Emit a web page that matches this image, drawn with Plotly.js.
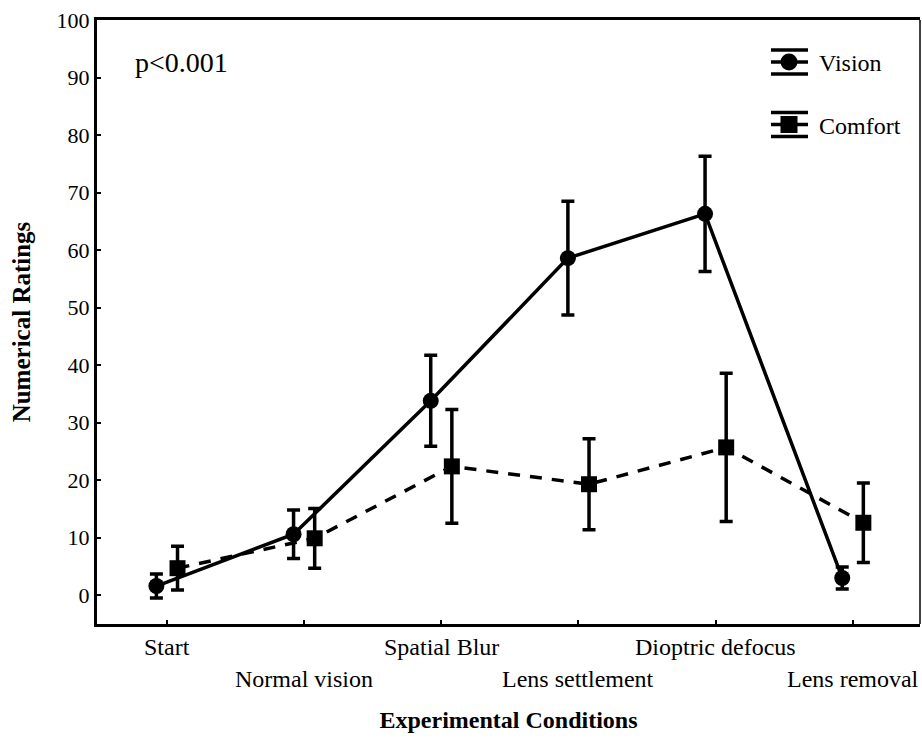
<!DOCTYPE html>
<html>
<head>
<meta charset="utf-8">
<script src="https://cdn.plot.ly/plotly-3.0.1.min.js"></script>
<style>
  html, body { margin: 0; padding: 0; background: #fff; }
  #chart { width: 922px; height: 745px; }
</style>
</head>
<body>
<div id="chart"></div>
<script>
// Experimental conditions along the x axis
const categories = ['Start', 'Normal vision', 'Spatial Blur', 'Lens settlement', 'Dioptric defocus', 'Lens removal'];

// Mean ratings and error half-widths per condition
const visionMean  = [1.6, 10.6, 33.8, 58.6, 66.3, 3.0];
const visionErr   = [2.1, 4.2, 7.9, 9.9, 10.0, 1.9];
const comfortMean = [4.7, 9.9, 22.4, 19.3, 25.7, 12.6];
const comfortErr  = [3.8, 5.2, 9.9, 7.9, 12.9, 6.9];

const yTicks = [0, 10, 20, 30, 40, 50, 60, 70, 80, 90, 100];
const seriesNames = ['Vision', 'Comfort'];
const annotationText = 'p<0.001';

const FONT = '"Liberation Serif", "Times New Roman", Times, serif';
const idx = categories.map((_, i) => i);
const dodge = 0.077;   // horizontal offset so the two series don't overlap

const W = 922, H = 745;
const M = { l: 97, r: 2, t: 20, b: 121 };
const plotW = W - M.l - M.r, plotH = H - M.t - M.b;
// helpers to place decorations in pixel terms
const px = x => (x - M.l) / plotW;
const py = y => (H - M.b - y) / plotH;

const errStyle = { type: 'data', visible: true, color: '#000', thickness: 3.5, width: 6.5 };

const traces = [
  {
    name: seriesNames[0],
    x: idx.map(i => i - dodge),
    y: visionMean,
    mode: 'lines+markers',
    line: { color: '#000', width: 3.5 },
    marker: { symbol: 'circle', size: 16, color: '#000' },
    error_y: Object.assign({ array: visionErr }, errStyle),
    showlegend: false
  },
  {
    name: seriesNames[1],
    x: idx.map(i => i + dodge),
    y: comfortMean,
    mode: 'lines+markers',
    line: { color: '#000', width: 3.5, dash: '12px,10px' },
    marker: { symbol: 'square', size: 16, color: '#000' },
    error_y: Object.assign({ array: comfortErr }, errStyle),
    showlegend: false
  }
];

// staggered category labels below the axis
const annotations = categories.map((c, i) => ({
  text: c, x: i, xref: 'x', y: 0, yref: 'paper',
  xanchor: 'center', yanchor: 'middle',
  yshift: i % 2 === 0 ? -23 : -55,
  showarrow: false, font: { family: FONT, size: 24, color: '#000' }
}));

annotations.push({
  text: annotationText, x: px(133), y: py(63), xref: 'paper', yref: 'paper',
  xanchor: 'left', yanchor: 'middle', showarrow: false,
  font: { family: FONT, size: 28, color: '#000' }
});

// hand-built legend: error-bar style key with marker
const shapes = [
  { type: 'line', xref: 'paper', yref: 'paper', x0: 1, x1: 1, y0: 0, y1: 1, line: { color: '#000', width: 1.5 } }
];
const legendRows = [
  { name: seriesNames[0], cy: 62, symbol: 'circle' },
  { name: seriesNames[1], cy: 124.5, symbol: 'rect' }
];
legendRows.forEach(r => {
  [-12, 0, 12].forEach(d => {
    shapes.push({ type: 'line', xref: 'paper', yref: 'paper',
      x0: px(771), x1: px(808), y0: py(r.cy + d), y1: py(r.cy + d),
      line: { color: '#000', width: 3.5 } });
  });
  const half = 8.5;
  shapes.push({ type: r.symbol, xref: 'paper', yref: 'paper',
    x0: px(789 - half), x1: px(789 + half), y0: py(r.cy - half), y1: py(r.cy + half),
    fillcolor: '#000', line: { color: '#000', width: 0 } });
  annotations.push({ text: r.name, x: px(817), y: py(r.cy + 1), xref: 'paper', yref: 'paper',
    xanchor: 'left', yanchor: 'middle', showarrow: false,
    font: { family: FONT, size: 24, color: '#000' } });
});

const layout = {
  width: W, height: H,
  margin: M,
  paper_bgcolor: '#fff', plot_bgcolor: '#fff',
  font: { family: FONT, color: '#000', size: 22 },
  showlegend: false,
  xaxis: {
    range: [-0.51, 5.49],
    tickvals: idx, showticklabels: false,
    ticks: 'inside', ticklen: 4, tickwidth: 2, tickcolor: '#000',
    showline: true, linewidth: 3, linecolor: '#000', mirror: true,
    showgrid: false, zeroline: false,
    title: { text: '<b>Experimental Conditions</b>', font: { family: FONT, size: 24, color: '#000' }, standoff: 86 }
  },
  yaxis: {
    range: [-5, 100],
    tickvals: yTicks,
    ticks: 'inside', ticklen: 4, tickwidth: 2, tickcolor: '#000',
    showline: true, linewidth: 3, linecolor: '#000',
    showgrid: false, zeroline: false,
    tickfont: { family: FONT, size: 22, color: '#000' },
    title: { text: '<b>Numerical Ratings</b>', font: { family: FONT, size: 25, color: '#000' }, standoff: 19 }
  },
  shapes: shapes,
  annotations: annotations
};

Plotly.newPlot('chart', traces, layout, { displayModeBar: false, staticPlot: true });
</script>
</body>
</html>
